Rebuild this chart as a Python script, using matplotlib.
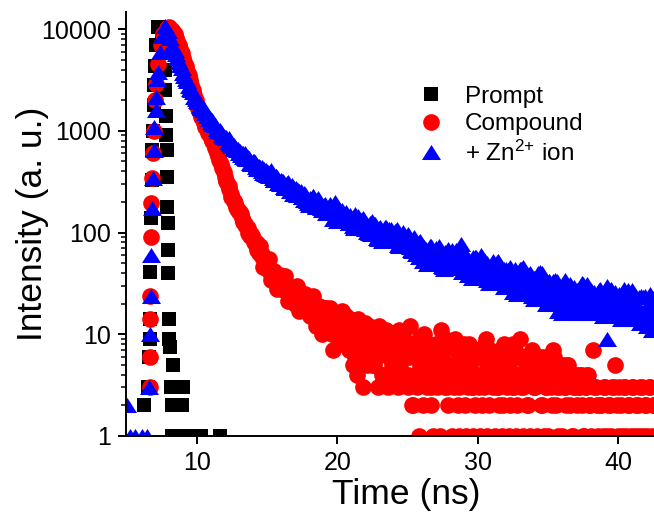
import matplotlib
matplotlib.use("Agg")
import matplotlib.pyplot as plt
from matplotlib.ticker import FixedLocator, LogLocator, NullFormatter, NullLocator

plt.rcParams["font.family"] = ["Liberation Sans", "DejaVu Sans"]
plt.rcParams["mathtext.fontset"] = "custom"
plt.rcParams["mathtext.rm"] = "Liberation Sans"
plt.rcParams["mathtext.it"] = "Liberation Sans:italic"

# ------------------------------------------------------------
# data (time in ns, counts)
# ------------------------------------------------------------

prompt_time = [6.22, 6.50, 6.58, 6.62, 6.66, 6.68, 6.72, 6.76, 6.80, 6.85,
               6.90, 6.95, 7.00, 7.10, 7.20, 7.35, 7.50, 7.60, 7.70, 7.75,
               7.80, 7.82, 7.84, 7.86, 7.88, 7.90, 7.92, 7.94, 8.00, 8.02,
               8.05, 8.15, 8.20, 8.30, 8.90, 9.00, 8.25, 8.60, 8.95, 9.30,
               9.65, 10.00, 10.30, 11.65]
prompt_counts = [2, 3, 6, 9, 14, 41, 140, 330, 650, 1000,
                 1800, 2800, 4300, 7000, 10500, 10500, 9000, 6000, 4000, 2500,
                 1400, 900, 650, 350, 180, 125, 67, 40, 14, 9,
                 7.5, 3, 2, 5, 2, 3, 1, 1, 1, 1,
                 1, 1, 1, 1]

compound_rise_time = [6.62, 6.63, 6.65, 6.67, 6.70, 6.75, 6.80, 6.88, 6.95, 7.00,
                      7.05, 7.20, 7.40, 7.60, 7.85, 8.00]
compound_rise = [3, 6, 14, 24, 90, 195, 345, 610, 1000, 2000,
                 2900, 4500, 7000, 9000, 10300, 10500]

zn_rise_time = [5.00, 5.20, 5.60, 6.05, 6.45, 6.60, 6.65, 6.70, 6.75, 6.80,
                6.85, 6.90, 6.95, 7.05, 7.10, 7.15, 7.20, 7.35, 7.50, 7.70,
                7.90, 8.05]
zn_rise = [2, 1, 1, 1, 1, 3, 10, 24, 60, 175,
           345, 650, 1100, 1600, 2150, 3200, 3800, 6000, 8500, 10700,
           9500, 8200]

# decay, channel set A
decay_time = [8.2, 8.4, 8.6, 8.8, 9.0, 9.2, 9.4, 9.6, 9.8, 10.0,
              10.2, 10.4, 10.6, 10.8, 11.0, 11.2, 11.4, 11.6, 11.8, 12.0,
              12.2, 12.4, 12.6, 12.8, 13.0, 13.2, 13.4, 13.6, 13.8, 14.0,
              14.2, 14.4, 14.6, 14.8, 15.0, 15.2, 15.4, 15.6, 15.8, 16.0,
              16.2, 16.4, 16.6, 16.8, 17.0, 17.2, 17.4, 17.6, 17.8, 18.0,
              18.2, 18.4, 18.6, 18.8, 19.0, 19.2, 19.4, 19.6, 19.8, 20.0,
              20.2, 20.4, 20.6, 20.8, 21.0, 21.2, 21.4, 21.6, 21.8, 22.0,
              22.2, 22.4, 22.6, 22.8, 23.0, 23.2, 23.4, 23.6, 23.8, 24.0,
              24.2, 24.4, 24.6, 24.8, 25.0, 25.2, 25.4, 25.6, 25.8, 26.0,
              26.2, 26.4, 26.6, 26.8, 27.0, 27.2, 27.4, 27.6, 27.8, 28.0,
              28.2, 28.4, 28.6, 28.8, 29.0, 29.2, 29.4, 29.6, 29.8, 30.0,
              30.2, 30.4, 30.6, 30.8, 31.0, 31.2, 31.4, 31.6, 31.8, 32.0,
              32.2, 32.4, 32.6, 32.8, 33.0, 33.2, 33.4, 33.6, 33.8, 34.0,
              34.2, 34.4, 34.6, 34.8, 35.0, 35.2, 35.4, 35.6, 35.8, 36.0,
              36.2, 36.4, 36.6, 36.8, 37.0, 37.2, 37.4, 37.6, 37.8, 38.0,
              38.2, 38.4, 38.6, 38.8, 39.0, 39.2, 39.4, 39.6, 39.8, 40.0,
              40.2, 40.4, 40.6, 40.8, 41.0, 41.2, 41.4, 41.6, 41.8, 42.0,
              42.2, 42.4, 42.6]

compound_decay = [9800, 8900, 7600, 6300, 5200, 4300, 3500, 2800, 2250, 1800,
                  1500, 1280, 1100, 960, 840, 740, 610, 520, 430, 350,
                  290, 240, 205, 180, 158, 140, 118, 110, 92, 88,
                  76, 70, 58, 55, 44, 42, 35, 38, 30, 33,
                  27, 30, 24, 27, 20, 25, 19, 23, 17, 21,
                  15, 19, 14, 17, 12, 18, 11, 15, 10, 14,
                  9, 16, 8, 12, 7, 11, 4, 9, 3, 13,
                  6, 10, 5, 8, 12, 4, 9, 3, 7, 10,
                  5, 11, 6, 8, 4, 12, 2, 7, 1, 5,
                  10, 3, 6, 1, 8, 4, 11, 7, 3, 5,
                  1, 9, 2, 6, 4, 1, 8, 3, 2, 6,
                  1, 4, 9, 2, 5, 1, 3, 7, 2, 4,
                  1, 6, 3, 2, 9, 1, 4, 2, 5, 3,
                  1, 6, 2, 4, 1, 3, 7, 2, 4, 1,
                  3, 5, 2, 1, 4, 3, 2, 1, 4, 2,
                  7, 3, 1, 2, 3, 1, 2, 3, 5, 1,
                  2, 3, 1, 2, 3, 1, 2, 3, 1, 2,
                  3, 1, 2]

zn_decay = [7000, 6150, 5150, 4450, 3700, 3250, 2780, 2520, 2170, 1980,
            1750, 1650, 1480, 1400, 1230, 1170, 1040, 1000, 900, 870,
            770, 765, 680, 675, 600, 610, 545, 550, 485, 500,
            440, 450, 400, 420, 365, 390, 340, 360, 305, 330,
            280, 305, 255, 290, 240, 262, 255, 210, 225, 187,
            218, 195, 217, 175, 181, 156, 183, 157, 200, 130,
            167, 143, 158, 124, 139, 111, 137, 120, 140, 108,
            115, 96, 120, 101, 110, 83, 114, 95, 109, 82,
            95, 73, 95, 81, 97, 72, 77, 62, 80, 65,
            72, 49, 74, 59, 71, 51, 61, 44, 64, 54,
            68, 48, 54, 77, 60, 47, 54, 36, 58, 46,
            55, 38, 47, 32, 48, 39, 51, 34, 39, 29,
            44, 34, 40, 25, 44, 33, 42, 27, 35, 22,
            36, 29, 40, 25, 29, 20, 33, 24, 29, 16,
            32, 23, 31, 18, 25, 16, 27, 21, 31, 18,
            22, 16, 26, 19, 24, 9, 27, 19, 26, 16,
            22, 14, 24, 18, 27, 15, 19, 13, 23, 15,
            20, 11, 23]

# decay, channel set B
decay_time_b = [8.3, 8.5, 8.7, 8.9, 9.1, 9.3, 9.5, 9.7, 9.9, 10.1,
                10.3, 10.5, 10.7, 10.9, 11.1, 11.3, 11.5, 11.7, 11.9, 12.1,
                12.3, 12.5, 12.7, 12.9, 13.1, 13.3, 13.5, 13.7, 13.9, 14.1,
                14.3, 14.5, 14.7, 14.9, 15.1, 15.3, 15.5, 15.7, 15.9, 16.1,
                16.3, 16.5, 16.7, 16.9, 17.1, 17.3, 17.5, 17.7, 17.9, 18.1,
                18.3, 18.5, 18.7, 18.9, 19.1, 19.3, 19.5, 19.7, 19.9, 20.1,
                20.3, 20.5, 20.7, 20.9, 21.1, 21.3, 21.5, 21.7, 21.9, 22.1,
                22.3, 22.5, 22.7, 22.9, 23.1, 23.3, 23.5, 23.7, 23.9, 24.1,
                24.3, 24.5, 24.7, 24.9, 25.1, 25.3, 25.5, 25.7, 25.9, 26.1,
                26.3, 26.5, 26.7, 26.9, 27.1, 27.3, 27.5, 27.7, 27.9, 28.1,
                28.3, 28.5, 28.7, 28.9, 29.1, 29.3, 29.5, 29.7, 29.9, 30.1,
                30.3, 30.5, 30.7, 30.9, 31.1, 31.3, 31.5, 31.7, 31.9, 32.1,
                32.3, 32.5, 32.7, 32.9, 33.1, 33.3, 33.5, 33.7, 33.9, 34.1,
                34.3, 34.5, 34.7, 34.9, 35.1, 35.3, 35.5, 35.7, 35.9, 36.1,
                36.3, 36.5, 36.7, 36.9, 37.1, 37.3, 37.5, 37.7, 37.9, 38.1,
                38.3, 38.5, 38.7, 38.9, 39.1, 39.3, 39.5, 39.7, 39.9, 40.1,
                40.3, 40.5, 40.7, 40.9, 41.1, 41.3, 41.5, 41.7, 41.9, 42.1,
                42.3, 42.5]

compound_decay_b = [9350, 8250, 6900, 5750, 4750, 3900, 3150, 2500, 2000, 1650,
                    1380, 1190, 1030, 900, 790, 675, 565, 475, 390, 320,
                    270, 218, 196, 165, 152, 126, 117, 97, 93, 79,
                    67, 74, 46, 52, 55, 34, 42, 28, 38, 29,
                    37, 21, 28, 24, 30, 17, 18, 25, 16, 19,
                    24, 12, 19, 10, 18, 12, 18, 7, 14, 11,
                    17, 8, 9, 14, 5, 10, 14, 6, 11, 5,
                    11, 6, 11, 3, 8, 7, 11, 4, 5, 9,
                    3, 7, 10, 4, 6, 2, 8, 3, 5, 2,
                    7, 4, 2, 6, 3, 1, 5, 9, 2, 4,
                    3, 7, 1, 5, 2, 3, 6, 1, 4, 3,
                    2, 8, 1, 4, 3, 6, 2, 1, 5, 3,
                    2, 8, 1, 4, 3, 6, 2, 1, 4, 3,
                    5, 2, 1, 3, 6, 2, 4, 1, 3, 5,
                    2, 4, 1, 3, 2, 4, 1, 3, 2, 1,
                    3, 2, 2, 1, 3, 2, 1, 3, 2, 3,
                    1, 3, 2, 1, 3, 2, 1, 3, 2, 1,
                    3, 2]

zn_decay_b = [6500, 5700, 4750, 4100, 3430, 3050, 2600, 2390, 2040, 1900,
              1660, 1600, 1400, 1340, 1170, 1130, 990, 980, 860, 845,
              745, 745, 655, 665, 580, 600, 522, 540, 470, 490,
              424, 445, 388, 412, 358, 380, 330, 350, 300, 320,
              273, 297, 254, 276, 235, 255, 221, 240, 193, 212,
              226, 182, 200, 167, 190, 166, 184, 137, 161, 150,
              166, 131, 132, 149, 115, 131, 144, 111, 127, 102,
              123, 106, 121, 87, 108, 99, 114, 86, 88, 104,
              76, 91, 101, 74, 87, 66, 84, 69, 82, 53,
              69, 62, 74, 53, 55, 68, 46, 59, 69, 49,
              60, 45, 60, 50, 62, 38, 53, 48, 58, 40,
              41, 52, 34, 44, 52, 35, 45, 32, 44, 35,
              46, 26, 39, 35, 44, 28, 30, 40, 24, 33,
              40, 25, 34, 22, 33, 25, 34, 17, 28, 24,
              32, 19, 21, 29, 16, 24, 31, 18, 26, 16,
              26, 19, 28, 15, 23, 20, 28, 16, 17, 25,
              14, 21, 27, 15, 22, 14, 23, 16, 24, 12,
              19, 16]

# decay, channel set C (in-between channels of the noisy part)
compound_time_c = [12.05, 12.25, 12.45, 12.65, 12.85, 13.05, 13.25, 13.45, 13.65, 13.85,
                   14.05, 14.25, 14.45, 14.65, 14.85, 15.05, 15.25, 15.45, 15.65, 15.85,
                   16.05, 16.25, 16.45, 16.65, 16.85, 17.05, 17.25, 17.45, 17.65, 17.85,
                   18.05, 18.25, 18.45, 18.65, 18.85, 19.05, 19.25, 19.45, 19.65, 19.85,
                   20.05, 20.25, 20.45, 20.65, 20.85, 21.05, 21.25, 21.45, 21.65, 21.85,
                   22.05, 22.25, 22.45, 22.65, 22.85, 23.05, 23.25, 23.45, 23.65, 23.85,
                   24.05, 24.25, 24.45, 24.65, 24.85, 25.05, 25.25, 25.45, 25.65, 25.85,
                   26.05, 26.25, 26.45, 26.65, 26.85, 27.05, 27.25, 27.45, 27.65, 27.85,
                   28.05, 28.25, 28.45, 28.65, 28.85, 29.05, 29.25, 29.45, 29.65, 29.85,
                   30.05, 30.25, 30.45, 30.65, 30.85, 31.05, 31.25, 31.45, 31.65, 31.85,
                   32.05, 32.25, 32.45, 32.65, 32.85, 33.05, 33.25, 33.45, 33.65, 33.85,
                   34.05, 34.25, 34.45, 34.65, 34.85, 35.05, 35.25, 35.45, 35.65, 35.85,
                   36.05, 36.25, 36.45, 36.65, 36.85, 37.05, 37.25, 37.45, 37.65, 37.85]

compound_decay_c = [320, 285, 225, 205, 170, 160, 130, 122, 100, 97,
                    80, 79, 63, 62, 48, 47, 38, 41, 32, 36,
                    28, 33, 25, 29, 22, 26, 20, 23, 18, 22,
                    15, 20, 14, 19, 12, 17, 11, 16, 10, 15,
                    9, 13, 8, 15, 7, 12, 6, 10, 5, 9,
                    7, 12, 5, 9, 6, 10, 4, 8, 6, 9,
                    4, 7, 5, 9, 6, 3, 8, 4, 6, 9,
                    4, 6, 8, 3, 5, 7, 4, 6, 3, 8,
                    5, 4, 7, 3, 6, 8, 4, 5, 3, 7,
                    4, 6, 3, 5, 7, 4, 6, 3, 5, 8,
                    4, 5, 3, 7, 4, 6, 3, 5, 4, 7,
                    3, 5, 4, 6, 3, 5, 4, 6, 3, 5,
                    4, 3, 5, 4, 3, 4, 3, 4, 3, 4]

zn_time_c = [10.05, 10.25, 10.45, 10.65, 10.85, 11.05, 11.25, 11.45, 11.65, 11.85,
             12.05, 12.25, 12.45, 12.65, 12.85, 13.05, 13.25, 13.45, 13.65, 13.85,
             14.05, 14.25, 14.45, 14.65, 14.85, 15.05, 15.25, 15.45, 15.65, 15.85,
             16.05, 16.25, 16.45, 16.65, 16.85, 17.05, 17.25, 17.45, 17.65, 17.85,
             18.05, 18.25, 18.45, 18.65, 18.85, 19.05, 19.25, 19.45, 19.65, 19.85,
             20.05, 20.25, 20.45, 20.65, 20.85, 21.05, 21.25, 21.45, 21.65, 21.85,
             22.05, 22.25, 22.45, 22.65, 22.85, 23.05, 23.25, 23.45, 23.65, 23.85,
             24.05, 24.25, 24.45, 24.65, 24.85, 25.05, 25.25, 25.45, 25.65, 25.85,
             26.05, 26.25, 26.45, 26.65, 26.85, 27.05, 27.25, 27.45, 27.65, 27.85,
             28.05, 28.25, 28.45, 28.65, 28.85, 29.05, 29.25, 29.45, 29.65, 29.85,
             30.05, 30.25, 30.45, 30.65, 30.85, 31.05, 31.25, 31.45, 31.65, 31.85,
             32.05, 32.25, 32.45, 32.65, 32.85, 33.05, 33.25, 33.45, 33.65, 33.85,
             34.05, 34.25, 34.45, 34.65, 34.85, 35.05, 35.25, 35.45, 35.65, 35.85,
             36.05, 36.25, 36.45, 36.65, 36.85, 37.05, 37.25, 37.45, 37.65, 37.85,
             38.05, 38.25, 38.45, 38.65, 38.85, 39.05, 39.25, 39.45, 39.65, 39.85,
             40.05, 40.25, 40.45, 40.65, 40.85, 41.05, 41.25, 41.45, 41.65, 41.85,
             42.05, 42.25, 42.45]

zn_decay_c = [1970, 1695, 1700, 1482, 1311, 1285, 1147, 1037, 1025, 885,
              867, 851, 707, 724, 647, 637, 558, 605, 525, 470,
              502, 459, 420, 441, 380, 393, 408, 328, 357, 316,
              322, 273, 317, 272, 239, 271, 248, 221, 243, 202,
              216, 231, 177, 202, 177, 187, 155, 192, 159, 136,
              164, 150, 136, 155, 124, 138, 152, 110, 132, 114,
              124, 99, 130, 106, 89, 113, 103, 91, 109, 84,
              96, 109, 75, 94, 78, 86, 67, 91, 71, 57,
              76, 68, 58, 72, 53, 63, 74, 47, 64, 53,
              61, 45, 68, 52, 41, 59, 52, 45, 58, 41,
              50, 60, 36, 50, 40, 47, 33, 52, 38, 29,
              44, 38, 32, 44, 30, 37, 46, 26, 38, 30,
              36, 24, 41, 28, 20, 33, 28, 23, 33, 20,
              27, 34, 17, 28, 21, 27, 17, 32, 21, 16,
              27, 23, 18, 27, 16, 23, 30, 15, 24, 18,
              23, 14, 28, 19, 14, 24, 20, 15, 24, 14,
              19, 25, 12]

y_ticks = [1, 10, 100, 1000, 10000]
y_tick_labels = ["1", "10", "100", "1000", "10000"]
x_ticks = [10, 20, 30, 40]

# ------------------------------------------------------------
# plot
# ------------------------------------------------------------

fig = plt.figure(figsize=(6.54, 5.17), dpi=100)
ax = fig.add_axes([0.1927, 0.1567, 0.8563, 0.8201])

triangle = [(-1, -0.79), (1, -0.79), (0, 0.79)]

compound_t = compound_rise_time + decay_time + decay_time_b + compound_time_c
compound_y = compound_rise + compound_decay + compound_decay_b + compound_decay_c
zn_t = zn_rise_time + decay_time + decay_time_b + zn_time_c
zn_y = zn_rise + zn_decay + zn_decay_b + zn_decay_c

ax.plot(prompt_time, prompt_counts, ls="none", marker="s", ms=10.5,
        color="black", mew=0, label="Prompt")
ax.plot(compound_t, compound_y, ls="none", marker="o", ms=12,
        color="#ff0000", mew=0, label="Compound")
ax.plot(zn_t, zn_y, ls="none", marker=triangle, ms=13.7,
        color="#0000ff", mew=0, label=r"+ Zn$^{2\text{+}}$ ion")

ax.set_yscale("log")
ax.set_xlim(4.94, 44.85)
ax.set_ylim(1, 14700)

ax.yaxis.set_major_locator(FixedLocator(y_ticks))
ax.set_yticklabels(y_tick_labels)
ax.yaxis.set_minor_locator(LogLocator(base=10, subs=range(2, 10)))
ax.yaxis.set_minor_formatter(NullFormatter())
ax.set_xticks(x_ticks)
ax.xaxis.set_minor_locator(NullLocator())

for side in ["top", "right"]:
    ax.spines[side].set_visible(False)
for side in ["left", "bottom"]:
    ax.spines[side].set_linewidth(1.4)

ax.tick_params(which="major", direction="out", length=6, width=1.4,
               labelsize=18, pad=5)
ax.tick_params(which="minor", direction="out", length=3.5, width=1.1)

ax.set_xlabel("Time (ns)", fontsize=25.5)
ax.set_ylabel("Intensity (a. u.)", fontsize=25.5)
ax.xaxis.set_label_coords(0.5, -0.100)
ax.yaxis.set_label_coords(-0.137, 0.5)

ax.legend(loc="upper left", bbox_to_anchor=(0.523, 0.826), frameon=False,
          fontsize=17.5, handlelength=1.0, handletextpad=0.9,
          labelspacing=0.22, borderpad=0, borderaxespad=0, numpoints=1)

fig.savefig("out.png", dpi=100)
